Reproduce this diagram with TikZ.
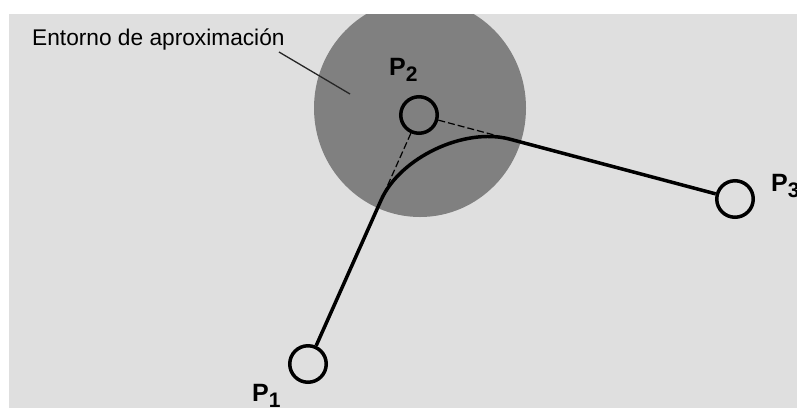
\documentclass[tikz,border=0pt]{standalone}
\usepackage{fontspec}
\setmainfont{Liberation Sans}
\usetikzlibrary{calc,shapes.geometric}
\definecolor{bgc}{RGB}{223,223,223}
\definecolor{zonec}{RGB}{128,128,128}
\tikzset{
  pt/.style={circle,draw=black,line width=3.5pt,minimum size=36.5pt,inner sep=0pt},
  pathline/.style={line width=3.5pt},
  helper/.style={line width=1.2pt,dash pattern=on 7pt off 3pt},
  leader/.style={line width=1.3pt,draw=black!85},
  plabel/.style={anchor=base west,inner sep=0pt,font=\fontsize{25}{25}\selectfont\bfseries},
  txt/.style={anchor=base west,inner sep=0pt,font=\fontsize{22.7}{22.7}\selectfont}
}
\newcommand{\psub}[1]{\raisebox{-6pt}{\fontsize{21}{21}\selectfont\bfseries #1}}
\begin{document}
\begin{tikzpicture}[x=1pt,y=-1pt]
\clip (0,0) rectangle (797,408);
\fill[white] (0,0) rectangle (797,408);
\fill[bgc] (9,14) rectangle (797,408);
\begin{scope}
  \clip (9,14) rectangle (797,408);
  \node[ellipse,fill=zonec,minimum width=212pt,minimum height=218pt,inner sep=0pt] (zone) at (420,108) {};
\end{scope}
% label and leader
\node[txt] (lbl) at (32,45) {Entorno de aproximación};
\coordinate (lead1) at (279,52);
\coordinate (lead2) at (350,94);
\draw[leader] (lead1) -- (lead2);
% points
\node[pt] (p1) at (308,364) {};
\node[pt] (p2) at (419,115) {};
\node[pt] (p3) at (735,199) {};
% tangent points
\coordinate (A) at ($(p2.center)!93pt!(p1.center)$);
\coordinate (B) at ($(p2.center)!94pt!(p3.center)$);
\coordinate (C1) at ($(A)!0.5!(p2.center)$);
\coordinate (C2) at ($(B)!0.5!(p2.center)$);
% helper dashed lines
\draw[helper] (p2) -- (A);
\draw[helper] (p2) -- (B);
% path
\draw[pathline] (p1) -- (A) .. controls (C1) and (C2) .. (B) -- (p3);
% labels
\node[plabel] (l2) at (389,75) {P\psub{2}};
\node[plabel] (l1) at (252,401) {P\psub{1}};
\node[plabel] (l3) at (771,191) {P\psub{3}};
\end{tikzpicture}
\end{document}
